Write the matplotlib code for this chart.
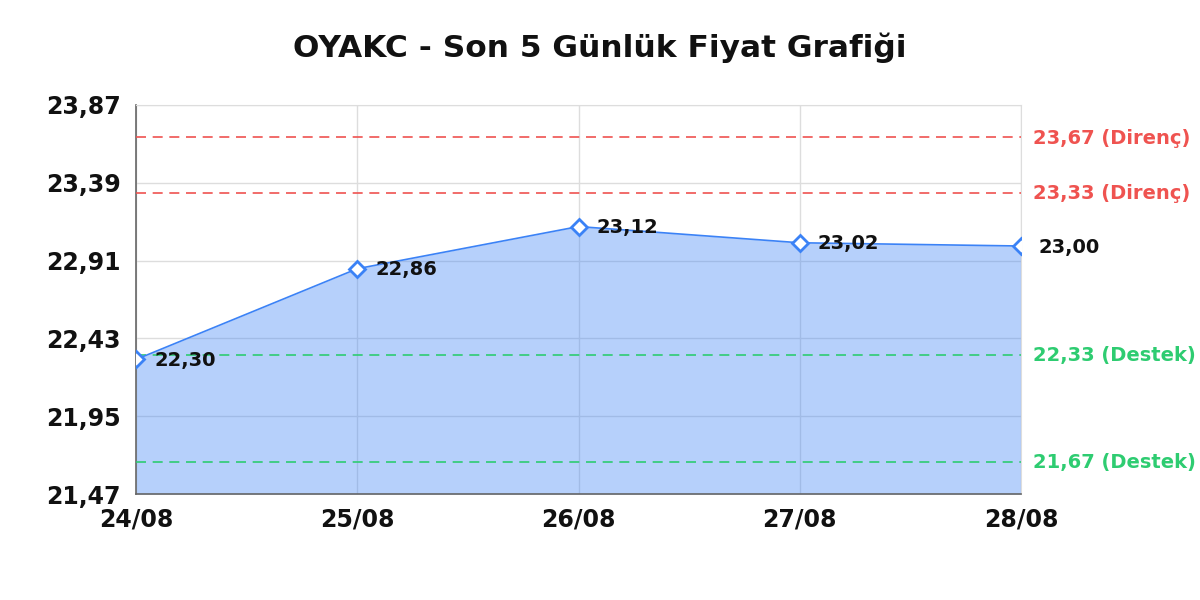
import matplotlib
matplotlib.use("Agg")
import matplotlib.pyplot as plt

dates = ["24/08", "25/08", "26/08", "27/08", "28/08"]
prices = [22.30, 22.86, 23.12, 23.02, 23.00]
resistance = [23.67, 23.33]
support = [22.33, 21.67]
yticks = [21.47, 21.95, 22.43, 22.91, 23.39, 23.87]
title = "OYAKC - Son 5 Günlük Fiyat Grafiği"

def fmt(v):
    return f"{v:.2f}".replace(".", ",")

fig = plt.figure(figsize=(12, 6), dpi=100)
ax = fig.add_axes([136/1200, 1-494/600, (1021-136)/1200, (494-105)/600])

x = list(range(len(dates)))
line_c = "#3b82f6"
ax.fill_between(x, prices, yticks[0], color=line_c, alpha=0.37, linewidth=0, zorder=2)
ax.plot(x, prices, color=line_c, linewidth=1.2, zorder=4,
        marker="D", markersize=8, markerfacecolor="white", markeredgecolor=line_c,
        markeredgewidth=2)

for xi, p in zip(x, prices):
    ax.annotate(fmt(p), (xi, p), xytext=(18, -1), textcoords="offset pixels",
                ha="left", va="center", fontsize=14, fontweight="bold", color="#111111", zorder=6)

red = "#ef5350"
green = "#2ecc71"
for r in resistance:
    ax.axhline(r, color=red, linestyle=(0, (6, 4)), linewidth=1.2, zorder=3)
    ax.annotate(f"{fmt(r)} (Direnç)", (1, r), xycoords=("axes fraction", "data"),
                xytext=(12, -1), textcoords="offset pixels", ha="left", va="center",
                fontsize=14, fontweight="bold", color=red, annotation_clip=False)
for s in support:
    ax.axhline(s, color=green, linestyle=(0, (6, 4)), linewidth=1.2, zorder=3)
    ax.annotate(f"{fmt(s)} (Destek)", (1, s), xycoords=("axes fraction", "data"),
                xytext=(12, -1), textcoords="offset pixels", ha="left", va="center",
                fontsize=14, fontweight="bold", color=green, annotation_clip=False)

ax.set_xlim(0, len(dates) - 1)
ax.set_ylim(yticks[0], yticks[-1])
ax.set_yticks(yticks)
ax.set_yticklabels([fmt(t) for t in yticks])
ax.set_xticks(x)
ax.set_xticklabels(dates)
ax.tick_params(axis="both", length=0, labelsize=17, colors="#111111")
for lab in ax.get_xticklabels() + ax.get_yticklabels():
    lab.set_fontweight("bold")
ax.tick_params(axis="x", pad=10)
ax.tick_params(axis="y", pad=11)

ax.grid(True, color="#dddddd", linewidth=1, zorder=1)
ax.set_axisbelow(True)
for side in ["top", "right"]:
    ax.spines[side].set_color("#dddddd")
for side in ["left", "bottom"]:
    ax.spines[side].set_color("#666666")
    ax.spines[side].set_linewidth(1.2)

fig.text(0.5, 1-48/600, title, ha="center", va="center", fontsize=22.5, fontweight="bold", color="#111111")

fig.savefig("out.png", dpi=100)
